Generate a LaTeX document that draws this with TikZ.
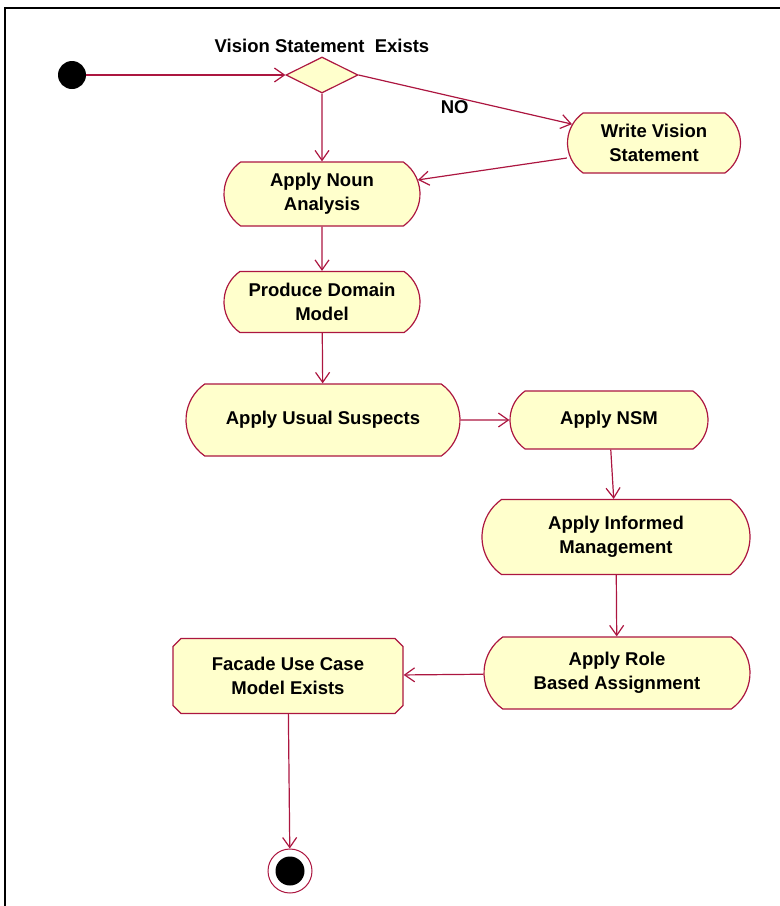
\documentclass[tikz,border=0pt]{standalone}
\usepackage{fontspec}
\setmainfont{Liberation Sans}
\usepackage{xcolor}
\usepackage{tikz}
\usetikzlibrary{
    arrows.meta,
    shapes.geometric,
    shapes.misc
}
\definecolor{umlred}{RGB}{172,22,64}
\definecolor{umlfill}{RGB}{255,255,204}

\begin{document}
\begin{tikzpicture}[x=1pt, y=-1pt, ->, >={Straight Barb[length=10pt,width=14pt]}, font=\fontsize{18.5}{24}\selectfont\bfseries]
    \tikzstyle{every edge}=[draw=umlred, line width=1.2pt]
    \tikzstyle{activity}=[draw=umlred, fill=umlfill, rounded rectangle, rounded rectangle arc length=110, align=center, inner sep=0pt, line width=1.2pt]
    \tikzstyle{outcome}=[draw=umlred, fill=umlfill, chamfered rectangle, chamfered rectangle xsep=4pt, chamfered rectangle ysep=4pt, align=center, inner sep=0pt, line width=1.2pt]
    \tikzstyle{decision}=[draw=umlred, fill=umlfill, diamond, aspect=2, inner sep=0pt, minimum width=72pt, minimum height=36pt, line width=1.2pt]
    \tikzstyle{start}=[circle, fill=black, minimum size=28pt, inner sep=0pt]
    \tikzstyle{stop}=[circle, draw=umlred, fill=white, minimum size=44pt, inner sep=0pt, line width=1pt,
        path picture={\fill[black] (path picture bounding box.center) circle (14.5pt);}]

    \useasboundingbox (0, 0) rectangle (780, 906);
    \draw[-, black, line width=2pt] (5, 906) -- (5, 8) -- (780, 8);

    \node[start] (init) at (72, 75) {};
    \node[decision, label={above:Vision Statement\ \ Exists}] (dec) at (322, 75) {};
    \node[activity, minimum width=173pt, minimum height=60pt] (write) at (654, 143) {Write Vision\\Statement};
    \node[activity, minimum width=196pt, minimum height=64pt] (noun) at (322, 194) {Apply Noun\\Analysis};
    \node[activity, minimum width=196pt, minimum height=61pt] (domain) at (322, 302) {Produce Domain\\Model};
    \node[activity, minimum width=274pt, minimum height=72pt] (usual) at (323, 420) {Apply Usual Suspects};
    \node[activity, minimum width=198pt, minimum height=58pt] (nsm) at (609, 420) {Apply NSM};
    \node[activity, minimum width=268pt, minimum height=75pt] (informed) at (616, 537) {Apply Informed\\Management};
    \node[activity, minimum width=266pt, minimum height=72pt] (role) at (617, 673) {Apply Role\\Based Assignment};
    \node[outcome, minimum width=230pt, minimum height=75pt] (facade) at (288, 676) {Facade Use Case\\Model Exists};
    \node[stop] (final) at (290, 871) {};

    \path (init) edge (dec.west)
          (dec.east) edge node[below, pos=0.45] {NO} (write)
          ([yshift=-15pt]write.west) edge (noun)
          (dec.south) edge (noun)
          (noun) edge (domain)
          (domain) edge (usual)
          (usual) edge (nsm)
          (nsm) edge (informed)
          (informed) edge (role)
          (role) edge (facade)
          (facade) edge (final);
\end{tikzpicture}
\end{document}
